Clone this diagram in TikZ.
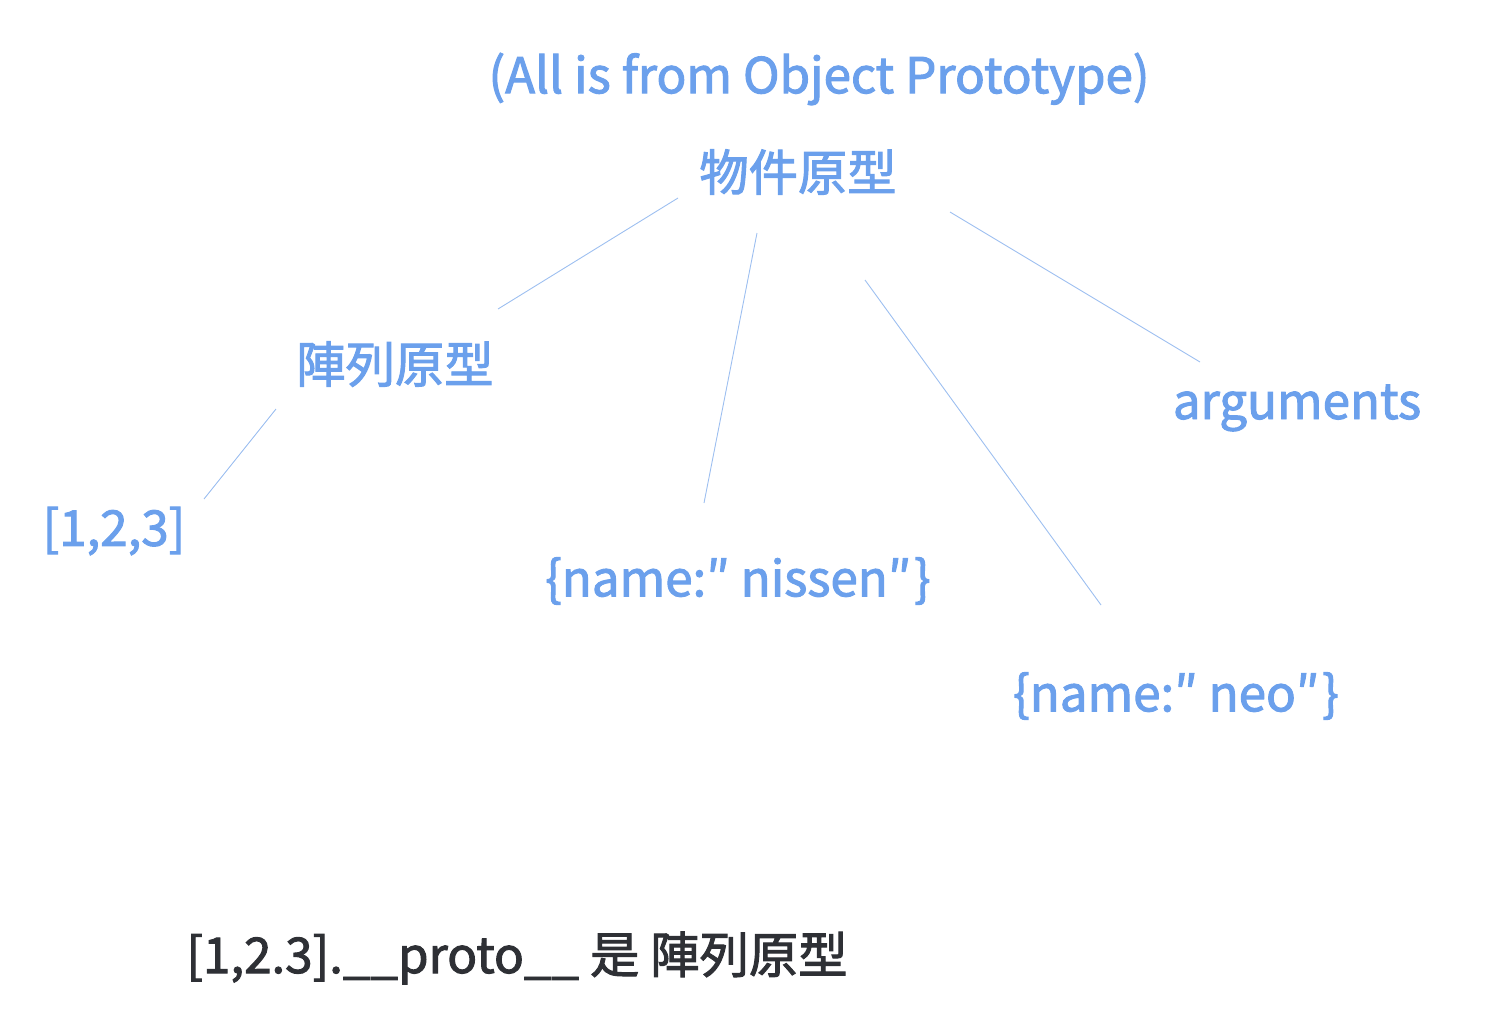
\documentclass[tikz,border=0pt]{standalone}
\usepackage{fontspec}
\setmainfont{Noto Sans CJK TC}
\newfontfamily\medfont[FakeBold=2]{Noto Sans CJK TC}
\definecolor{lblue}{HTML}{6BA0EC}
\definecolor{lline}{HTML}{9DBFF0}
\definecolor{dgray}{HTML}{2E3035}
\begin{document}
\begin{tikzpicture}[x=1pt,y=-1pt,
  lbl/.style={text=lblue,font=\medfont\fontsize{49.3}{56}\selectfont,inner sep=0pt,anchor=center},
  link/.style={draw=lline,line width=0.9pt}]
\useasboundingbox (0,0) rectangle (1490,1012);
\node[lbl] (title) at (819,79) {(All is from Object Prototype)};
\node[lbl] (obj) at (798,172) {物件原型};
\node[lbl] (arr) at (395,364) {陣列原型};
\node[lbl] (args) at (1297,408) {arguments};
\node[lbl] (list) at (114,531) {[1,2,3]};
\node[lbl] (nissen) at (738,581) {\{name:″ nissen″\kern3pt\}};
\node[lbl] (neo) at (1176,696) {\{name:″ neo″\kern3pt\}};
\node[text=dgray,font=\medfont\fontsize{49.3}{56}\selectfont,inner sep=0pt] (note) at (517,958) {[1,2.3].\_\_proto\_\_ 是 陣列原型};
\coordinate (objA) at (678,198); \coordinate (arrA) at (498,309);
\coordinate (objB) at (757,233); \coordinate (nisA) at (704,503);
\coordinate (objC) at (865,280); \coordinate (neoA) at (1101,605);
\coordinate (objD) at (950,212); \coordinate (argA) at (1200,362);
\coordinate (arrB) at (276,409); \coordinate (lstA) at (204,499);
\draw[link] (objA) -- (arrA);
\draw[link] (objB) -- (nisA);
\draw[link] (objC) -- (neoA);
\draw[link] (objD) -- (argA);
\draw[link] (arrB) -- (lstA);
\end{tikzpicture}
\end{document}
